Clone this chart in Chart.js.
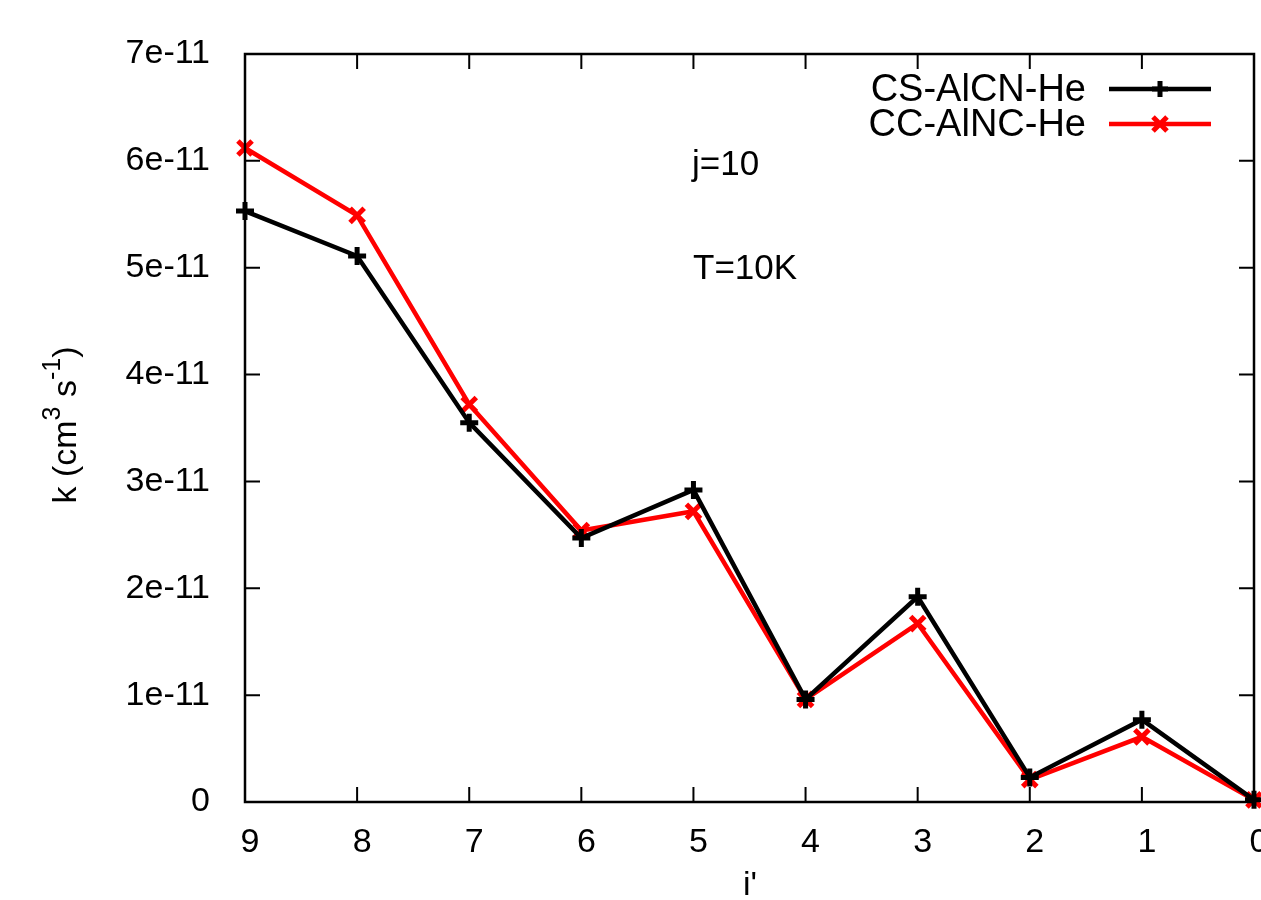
<!DOCTYPE html>
<html>
<head>
<meta charset="utf-8">
<script src="https://cdn.jsdelivr.net/npm/chart.js@4/dist/chart.umd.min.js"></script>
<style>
  html, body { margin: 0; padding: 0; background: #fff; }
  #wrap { width: 1261px; height: 900px; position: relative; }
</style>
</head>
<body>
<div id="wrap"><canvas id="myChart" width="1261" height="900"></canvas></div>
<script>
// datos (i' de 9 a 0)
const nivelesI = [9, 8, 7, 6, 5, 4, 3, 2, 1, 0];
const csAlcnHe = [5.53e-11, 5.11e-11, 3.55e-11, 2.47e-11, 2.92e-11, 0.96e-11, 1.92e-11, 0.23e-11, 0.77e-11, 0.02e-11];
const ccAlncHe = [6.12e-11, 5.49e-11, 3.72e-11, 2.54e-11, 2.72e-11, 0.96e-11, 1.67e-11, 0.21e-11, 0.61e-11, 0.02e-11];
const ticksY = [0, 1e-11, 2e-11, 3e-11, 4e-11, 5e-11, 6e-11, 7e-11];
const nombresSeries = ['CS-AlCN-He', 'CC-AlNC-He'];
const notas = ['j=10', 'T=10K'];

const fuente = "'Liberation Sans', Arial, sans-serif";

function puntos(valores) {
    return nivelesI.map(function (i, k) { return { x: i, y: valores[k] }; });
}

function etiquetaY(v) {
    if (v === 0) return '0';
    const n = Math.round(v / 1e-11);
    return n + 'e-11';
}

// marco, ticks hacia dentro, leyenda y textos
const marcoPlugin = {
    id: 'marco',
    afterDraw: function (chart) {
        const ctx = chart.ctx;
        const a = chart.chartArea;
        const sx = chart.scales.x;
        const sy = chart.scales.y;
        const largo = 15;
        ctx.save();
        ctx.strokeStyle = '#000';
        ctx.lineWidth = 2.5;
        ctx.strokeRect(a.left, a.top, a.right - a.left, a.bottom - a.top);
        ctx.lineWidth = 2;
        ctx.beginPath();
        nivelesI.forEach(function (i) {
            const px = sx.getPixelForValue(i);
            ctx.moveTo(px, a.bottom); ctx.lineTo(px, a.bottom - largo);
            ctx.moveTo(px, a.top); ctx.lineTo(px, a.top + largo);
        });
        ticksY.forEach(function (v) {
            const py = sy.getPixelForValue(v);
            ctx.moveTo(a.left, py); ctx.lineTo(a.left + largo, py);
            ctx.moveTo(a.right, py); ctx.lineTo(a.right - largo, py);
        });
        ctx.stroke();

        // leyenda
        ctx.font = '38px ' + fuente;
        ctx.textAlign = 'right';
        ctx.textBaseline = 'middle';
        chart.data.datasets.forEach(function (ds, k) {
            const y = 89 + k * 35;
            ctx.fillStyle = '#000';
            ctx.fillText(ds.label, 1086, y + 2);
            ctx.strokeStyle = ds.borderColor;
            ctx.lineWidth = 4.5;
            ctx.beginPath();
            ctx.moveTo(1109, y); ctx.lineTo(1211, y);
            ctx.stroke();
            ctx.lineWidth = 5;
            ctx.beginPath();
            if (ds.pointStyle === 'cross') {
                ctx.moveTo(1160 - 8, y); ctx.lineTo(1160 + 8, y);
                ctx.moveTo(1160, y - 8); ctx.lineTo(1160, y + 8);
            } else {
                ctx.moveTo(1160 - 7, y - 7); ctx.lineTo(1160 + 7, y + 7);
                ctx.moveTo(1160 - 7, y + 7); ctx.lineTo(1160 + 7, y - 7);
            }
            ctx.stroke();
        });

        // notas
        ctx.fillStyle = '#000';
        ctx.textAlign = 'left';
        ctx.font = '35px ' + fuente;
        ctx.fillText(notas[0], 692, 165);
        ctx.fillText(notas[1], 693, 269);

        // titulo eje y con superindices
        ctx.save();
        ctx.translate(67, 425);
        ctx.rotate(-Math.PI / 2);
        const partes = [['k (cm', 0], ['3', 1], [' s', 0], ['-1', 1], [')', 0]];
        let ancho = 0;
        partes.forEach(function (p) {
            ctx.font = (p[1] ? '25px ' : '34px ') + fuente;
            ancho += ctx.measureText(p[0]).width;
        });
        let x = -ancho / 2;
        ctx.textAlign = 'left';
        partes.forEach(function (p) {
            ctx.font = (p[1] ? '25px ' : '34px ') + fuente;
            ctx.fillText(p[0], x, p[1] ? -14 : 0);
            x += ctx.measureText(p[0]).width;
        });
        ctx.restore();

        // titulo eje x
        ctx.font = '34px ' + fuente;
        ctx.textAlign = 'center';
        ctx.fillText("i'", 750, 886);
        ctx.restore();
    }
};

const ctx = document.getElementById('myChart').getContext('2d');
const myChart = new Chart(ctx, {
    type: 'line',
    data: {
        datasets: [
            {
                label: nombresSeries[0],
                data: puntos(csAlcnHe),
                borderColor: '#000000',
                backgroundColor: '#000000',
                borderWidth: 4.5,
                pointStyle: 'cross',
                pointRadius: 9,
                pointBorderWidth: 5,
                tension: 0
            },
            {
                label: nombresSeries[1],
                data: puntos(ccAlncHe),
                borderColor: '#ff0000',
                backgroundColor: '#ff0000',
                borderWidth: 4.5,
                pointStyle: 'crossRot',
                pointRadius: 10,
                pointBorderWidth: 5,
                tension: 0
            }
        ]
    },
    options: {
        responsive: false,
        animation: false,
        clip: false,
        layout: { autoPadding: false, padding: { top: 54, right: 7, left: 0, bottom: 0 } },
        plugins: {
            legend: { display: false },
            tooltip: { enabled: false }
        },
        scales: {
            x: {
                type: 'linear',
                reverse: true,
                min: 0,
                max: 9,
                grid: { display: false },
                border: { display: false },
                ticks: {
                    stepSize: 1,
                    padding: 12,
                    labelOffset: 5,
                    color: '#000',
                    font: { family: fuente, size: 34 }
                },
                afterFit: function (scale) {
                    scale.height = 98;
                    scale.paddingLeft = 0;
                    scale.paddingRight = 0;
                }
            },
            y: {
                min: 0,
                max: 7e-11,
                grid: { display: false },
                border: { display: false },
                afterBuildTicks: function (scale) {
                    scale.ticks = ticksY.map(function (v) { return { value: v }; });
                },
                ticks: {
                    padding: 27,
                    color: '#000',
                    font: { family: fuente, size: 34 },
                    callback: function (v) { return etiquetaY(v); }
                },
                afterFit: function (scale) {
                    scale.width = 245;
                    scale.paddingTop = 0;
                    scale.paddingBottom = 0;
                }
            }
        }
    },
    plugins: [marcoPlugin]
});
</script>
</body>
</html>
